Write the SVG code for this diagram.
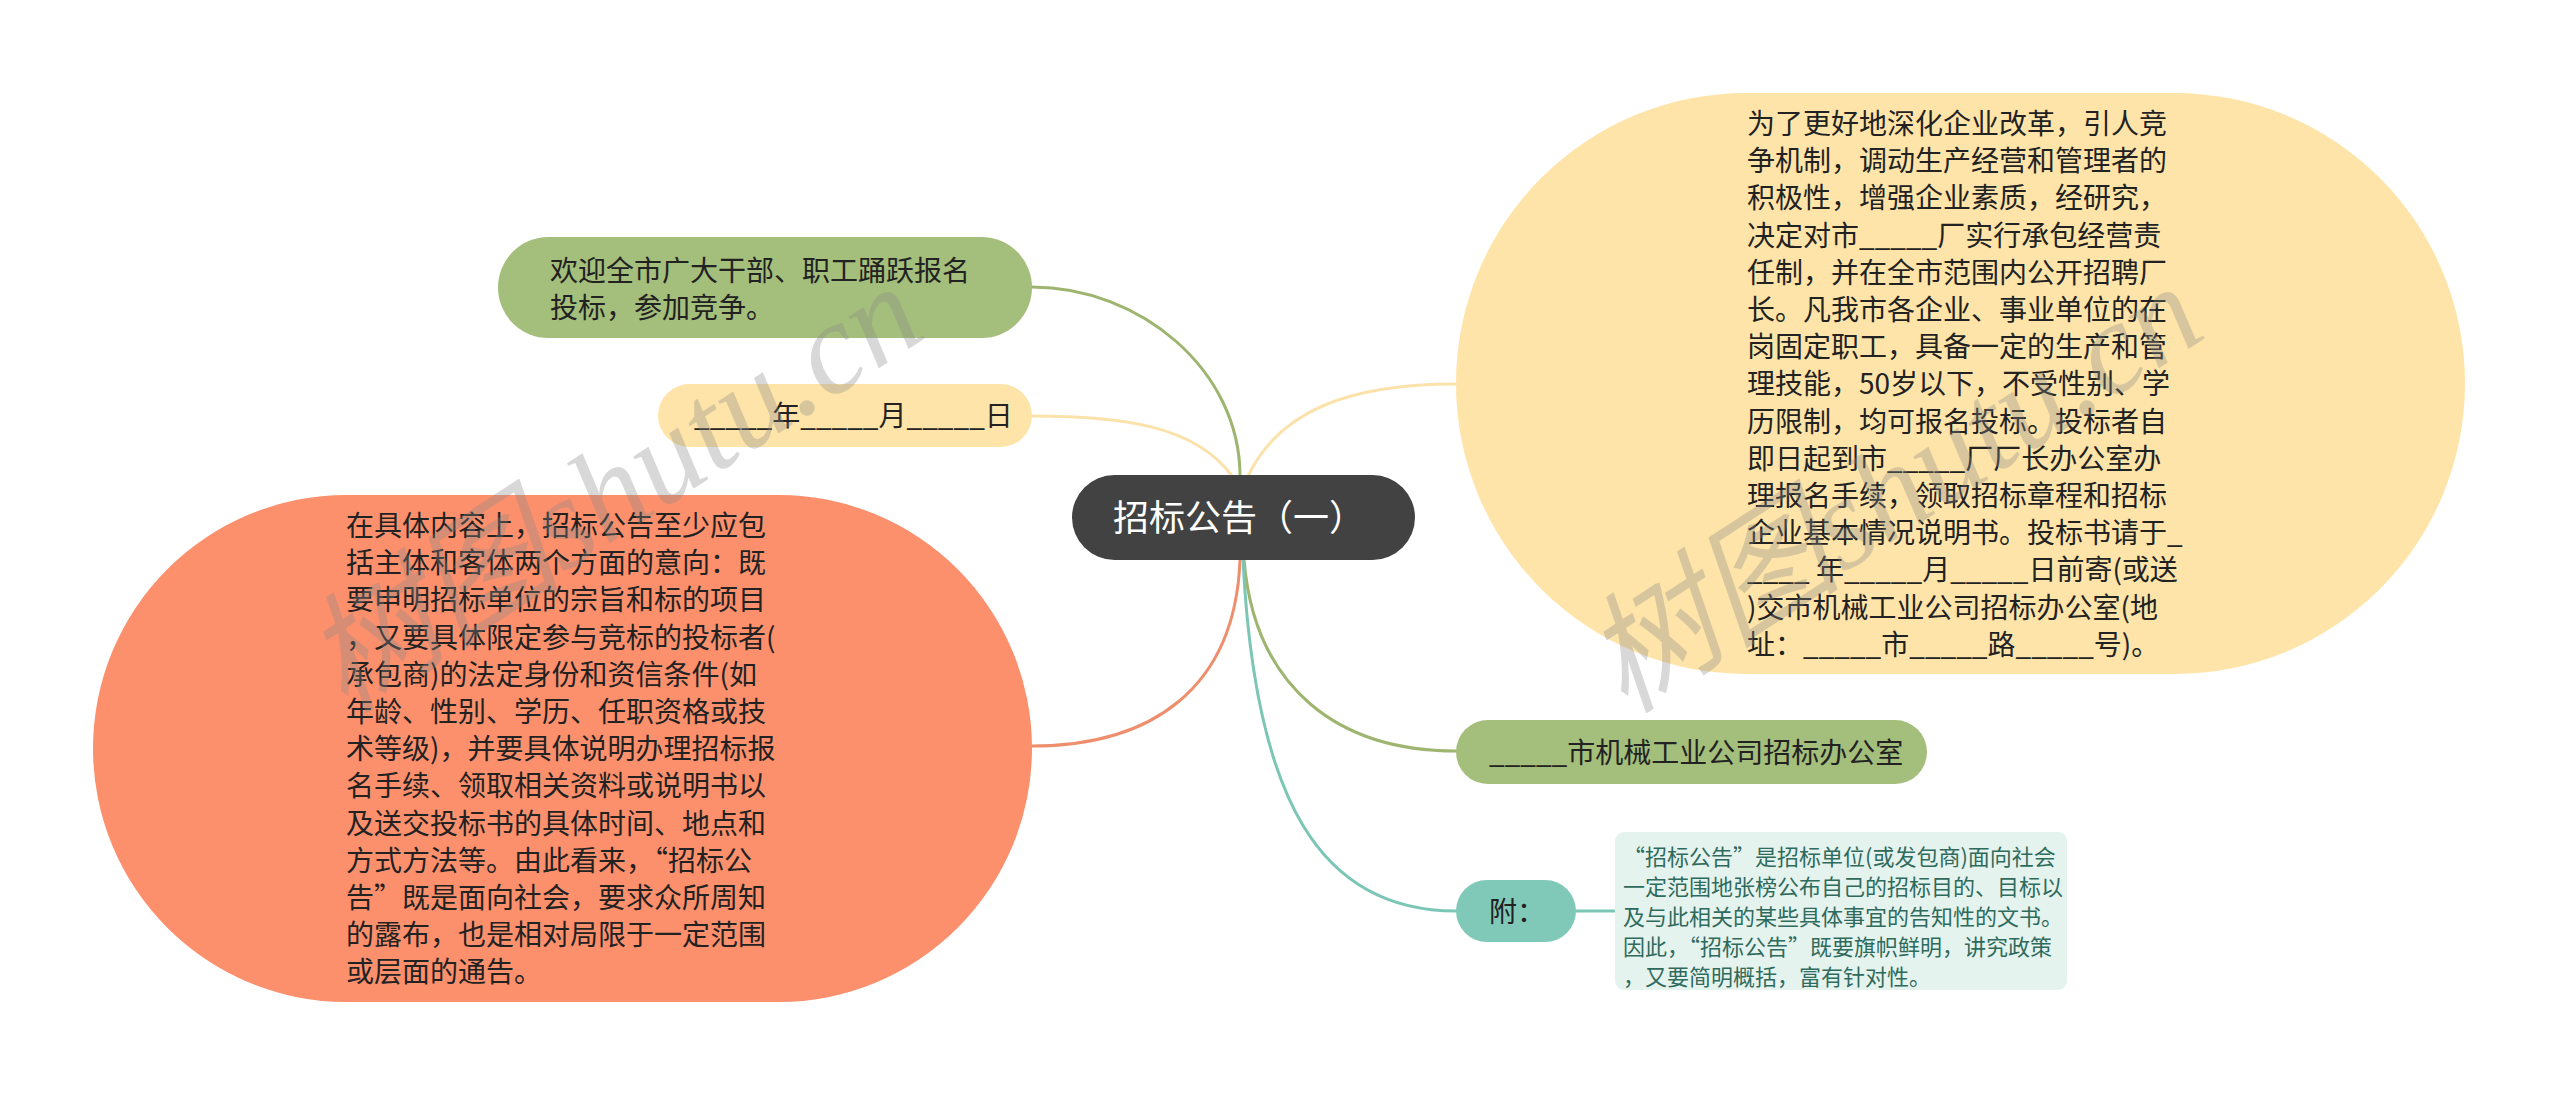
<svg xmlns="http://www.w3.org/2000/svg" width="2560" height="1095" viewBox="0 0 2560 1095">
<style>
.t{font-family:"Noto Sans CJK SC","Noto Sans",sans-serif;font-size:28px;fill:#222222}
.c{fill:none;stroke-width:3;stroke-linecap:round}
.wm{font-family:"Liberation Serif","Noto Sans CJK SC",serif;font-style:italic;font-size:130px;fill:#8a8a8a;fill-opacity:0.33}
</style>
<rect width="2560" height="1095" fill="#ffffff"/>
<g id="connectors">
<path class="c" stroke="#9db56f" d="M1240,476 C1240,370 1140,287 1032,287"/>
<path class="c" stroke="#fbe2aa" d="M1232,476 C1195,425 1120,416 1032,416"/>
<path class="c" stroke="#fbe2aa" d="M1248,476 C1280,410 1350,384 1456,384"/>
<path class="c" stroke="#ef8e6d" d="M1240,560 C1235,690 1150,746 1032,746"/>
<path class="c" stroke="#9db56f" d="M1244,560 C1255,690 1340,751 1456,751"/>
<path class="c" stroke="#7cc6b6" d="M1243,560 C1255,800 1320,911 1456,911"/>
<path class="c" stroke="#7cc6b6" d="M1576,911 L1615,911"/>
</g>
<g id="n-center">
<rect x="1072" y="475" width="343" height="85" rx="42.5" fill="#424242"/>
<text class="t" x="1113" y="531" style="font-size:36px;fill:#ffffff">招标公告（一）</text>
</g>
<g id="n-welcome">
<rect x="498" y="237" width="534" height="101" rx="50.5" fill="#a4be7b"/>
<text class="t"><tspan x="550" y="281">欢迎全市广大干部、职工踊跃报名</tspan><tspan x="550" y="318">投标，参加竞争。</tspan></text>
</g>
<g id="n-date">
<rect x="658" y="384" width="374" height="63" rx="31.5" fill="#fee4a8"/>
<text class="t" x="694" y="426">_____年_____月_____日</text>
</g>
<g id="n-content">
<rect x="93" y="495" width="939" height="507" rx="253.5" fill="#fc8f6c"/>
<text class="t">
<tspan x="346" y="536">在具体内容上，招标公告至少应包</tspan>
<tspan x="346" y="573.2">括主体和客体两个方面的意向：既</tspan>
<tspan x="346" y="610.4">要申明招标单位的宗旨和标的项目</tspan>
<tspan x="346" y="647.6">，又要具体限定参与竞标的投标者(</tspan>
<tspan x="346" y="684.8">承包商)的法定身份和资信条件(如</tspan>
<tspan x="346" y="722">年龄、性别、学历、任职资格或技</tspan>
<tspan x="346" y="759.2">术等级)，并要具体说明办理招标报</tspan>
<tspan x="346" y="796.4">名手续、领取相关资料或说明书以</tspan>
<tspan x="346" y="833.6">及送交投标书的具体时间、地点和</tspan>
<tspan x="346" y="870.8">方式方法等。由此看来，“招标公</tspan>
<tspan x="346" y="908">告”既是面向社会，要求众所周知</tspan>
<tspan x="346" y="945.2">的露布，也是相对局限于一定范围</tspan>
<tspan x="346" y="982.4">或层面的通告。</tspan>
</text>
</g>
<g id="n-notice">
<rect x="1456" y="93" width="1009" height="581" rx="290.5" fill="#fee4a8"/>
<text class="t">
<tspan x="1747" y="134">为了更好地深化企业改革，引人竞</tspan>
<tspan x="1747" y="171.2">争机制，调动生产经营和管理者的</tspan>
<tspan x="1747" y="208.4">积极性，增强企业素质，经研究，</tspan>
<tspan x="1747" y="245.6">决定对市_____厂实行承包经营责</tspan>
<tspan x="1747" y="282.8">任制，并在全市范围内公开招聘厂</tspan>
<tspan x="1747" y="320">长。凡我市各企业、事业单位的在</tspan>
<tspan x="1747" y="357.2">岗固定职工，具备一定的生产和管</tspan>
<tspan x="1747" y="394.4">理技能，50岁以下，不受性别、学</tspan>
<tspan x="1747" y="431.6">历限制，均可报名投标。投标者自</tspan>
<tspan x="1747" y="468.8">即日起到市_____厂厂长办公室办</tspan>
<tspan x="1747" y="506">理报名手续，领取招标章程和招标</tspan>
<tspan x="1747" y="543.2">企业基本情况说明书。投标书请于_</tspan>
<tspan x="1747" y="580.4">____ 年_____月_____日前寄(或送</tspan>
<tspan x="1747" y="617.6">)交市机械工业公司招标办公室(地</tspan>
<tspan x="1747" y="654.8">址：_____市_____路_____号)。</tspan>
</text>
</g>
<g id="n-office">
<rect x="1456" y="720" width="471" height="64" rx="32" fill="#a4be7b"/>
<text class="t" x="1489" y="763">_____市机械工业公司招标办公室</text>
</g>
<g id="n-appendix">
<rect x="1456" y="880" width="120" height="62" rx="31" fill="#80c9b9"/>
<text class="t" x="1489" y="922">附：</text>
</g>
<g id="n-note">
<rect x="1615" y="832" width="452" height="158" rx="9" fill="#e5f3ef"/>
<text class="t" style="font-size:22px;fill:#2f6b5c">
<tspan x="1623" y="865">“招标公告”是招标单位(或发包商)面向社会</tspan>
<tspan x="1623" y="895">一定范围地张榜公布自己的招标目的、目标以</tspan>
<tspan x="1623" y="925">及与此相关的某些具体事宜的告知性的文书。</tspan>
<tspan x="1623" y="955">因此，“招标公告”既要旗帜鲜明，讲究政策</tspan>
<tspan x="1623" y="985">，又要简明概括，富有针对性。</tspan>
</text>
</g>
<g id="watermarks">
<text class="wm" transform="translate(345,715) rotate(-33)">树图shutu.cn</text>
<text class="wm" transform="translate(1625,715) rotate(-33)">树图shutu.cn</text>
</g>
</svg>
